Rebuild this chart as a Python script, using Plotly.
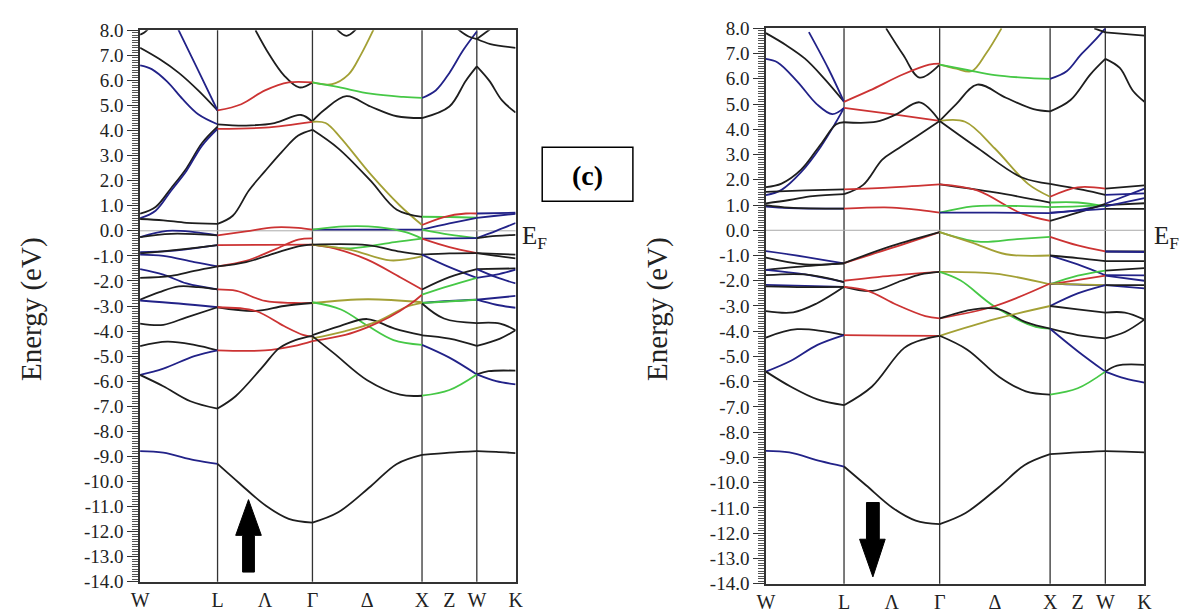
import plotly.graph_objects as go

W_FIG, H_FIG = 1181, 613

# high-symmetry path (k in units of 2pi/a)
seg_bounds = {"WL": (0.0, 0.707), "LG": (0.707, 1.573), "GX": (1.573, 2.573),
              "XW": (2.573, 3.073), "WK": (3.073, 3.427)}
sym_k = [0.0, 0.707, 1.140, 1.573, 2.073, 2.573, 2.823, 3.073, 3.427]
sym_labels = ["W", "L", "Λ", "Γ", "Δ", "X", "Z", "W", "K"]
vlines_k = [0.707, 1.573, 2.573, 3.073]
y_ticks = list(range(-14, 9))

colors = {"K": "#1e1e1e", "B": "#222288", "R": "#cc3333", "G": "#46c846", "O": "#a3a035"}

# ---------------- spin up (left) ----------------
up_WL = [
    ("K", [0, 0.05, 0.12], [7.82, 7.9, 8.1]),
    ("K", [0, 0.25, 0.5, 0.75, 1], [7.3, 6.85, 6.3, 5.6, 4.8]),
    ("B", [0.49, 0.75, 1], [8.05, 6.4, 4.8]),
    ("B", [0, 0.15, 0.35, 0.55, 0.75, 1], [6.6, 6.45, 5.95, 5.25, 4.65, 4.25]),
    ("K", [0, 0.2, 0.4, 0.6, 0.8, 1], [0.68, 0.95, 1.7, 2.5, 3.5, 4.15]),
    ("B", [0, 0.2, 0.4, 0.6, 0.8, 1], [0.5, 0.8, 1.6, 2.4, 3.4, 4.07]),
    ("K", [0, 0.3, 0.6, 1], [0.47, 0.42, 0.32, 0.28]),
    ("B", [0, 0.35, 0.7, 1], [-0.25, 0.0, -0.05, -0.18]),
    ("K", [0, 0.4, 1], [-0.25, -0.12, -0.18]),
    ("B", [0, 0.4, 1], [-0.85, -0.8, -0.57]),
    ("K", [0, 0.5, 1], [-0.9, -0.75, -0.57]),
    ("B", [0, 0.3, 0.7, 1], [-0.95, -1.0, -1.25, -1.42]),
    ("B", [0, 0.3, 0.6, 1], [-1.53, -1.75, -2.1, -2.34]),
    ("K", [0, 0.4, 0.7, 1], [-1.88, -1.8, -1.6, -1.42]),
    ("K", [0, 0.25, 0.5, 0.75, 1], [-2.75, -2.45, -2.22, -2.25, -2.34]),
    ("B", [0, 0.5, 1], [-2.78, -2.9, -3.05]),
    ("K", [0, 0.3, 0.6, 1], [-3.7, -3.75, -3.45, -3.05]),
    ("K", [0, 0.35, 0.7, 1], [-4.6, -4.42, -4.55, -4.77]),
    ("B", [0, 0.3, 0.7, 1], [-5.75, -5.5, -5.0, -4.77]),
    ("K", [0, 0.3, 0.65, 1], [-5.75, -6.2, -6.8, -7.09]),
    ("B", [0, 0.3, 0.7, 1], [-8.79, -8.85, -9.15, -9.3]),
]
up_LG = [
    ("K", [0.4, 0.55, 0.7, 0.86, 1], [8.0, 7.0, 6.2, 5.72, 5.92]),
    ("R", [0, 0.25, 0.5, 0.75, 1], [4.8, 5.05, 5.6, 5.92, 5.92]),
    ("K", [0, 0.3, 0.6, 0.88, 1], [4.25, 4.2, 4.3, 4.62, 4.35]),
    ("R", [0, 0.5, 1], [4.07, 4.12, 4.35]),
    ("K", [0, 0.16, 0.33, 0.5, 0.68, 0.85, 1], [0.28, 0.6, 1.61, 2.38, 3.16, 3.8, 4.03]),
    ("R", [0, 0.3, 0.6, 0.85, 1], [-0.18, -0.02, 0.14, 0.12, 0.05]),
    ("R", [0, 0.5, 1], [-0.57, -0.56, -0.55]),
    ("R", [0, 0.3, 0.6, 0.85, 1], [-1.42, -1.2, -0.75, -0.35, -0.3]),
    ("K", [0, 0.3, 0.6, 0.85, 1], [-1.42, -1.25, -0.9, -0.62, -0.55]),
    ("R", [0, 0.2, 0.5, 0.8, 1], [-2.34, -2.4, -2.8, -2.88, -2.88]),
    ("K", [0, 0.4, 0.7, 1], [-3.05, -3.2, -3.0, -2.88]),
    ("R", [0, 0.4, 0.7, 0.9, 1], [-3.05, -3.2, -3.8, -4.15, -4.22]),
    ("R", [0, 0.5, 0.8, 1], [-4.77, -4.77, -4.6, -4.4]),
    ("K", [0, 0.19, 0.47, 0.65, 0.82, 1], [-7.09, -6.6, -5.45, -4.68, -4.36, -4.19]),
    ("K", [0, 0.23, 0.51, 0.75, 1], [-9.3, -10.07, -10.97, -11.49, -11.64]),
]
up_GX = [
    ("O", [0, 0.18, 0.33, 0.44, 0.56], [5.92, 5.85, 6.24, 7.01, 8.05]),
    ("G", [0, 0.24, 0.53, 0.83, 1], [5.92, 5.73, 5.47, 5.34, 5.3]),
    ("K", [0.22, 0.31, 0.4], [8.05, 7.78, 8.05]),
    ("K", [0, 0.11, 0.31, 0.53, 0.77, 1], [4.38, 4.83, 5.37, 4.96, 4.57, 4.5]),
    ("O", [0, 0.12, 0.25, 0.53, 0.8, 1], [4.35, 4.3, 3.75, 2.26, 1.0, 0.23]),
    ("K", [0, 0.235, 0.53, 0.77, 1], [4.03, 3.29, 2.0, 0.84, 0.56]),
    ("B", [0, 0.5, 1], [0.05, 0.05, 0.05]),
    ("G", [0, 0.3, 0.6, 0.85, 1], [0.05, 0.18, 0.15, -0.05, -0.31]),
    ("G", [0, 0.35, 0.75, 1], [-0.55, -0.7, -0.45, -0.31]),
    ("R", [0, 0.2, 0.5, 0.8, 1], [-0.55, -0.7, -1.15, -1.85, -2.34]),
    ("O", [0, 0.35, 0.71, 1], [-0.55, -0.76, -1.18, -1.02]),
    ("K", [0, 0.5, 0.8, 1], [-0.55, -0.57, -0.83, -0.95]),
    ("O", [0, 0.5, 1], [-2.88, -2.73, -2.85]),
    ("G", [0, 0.26, 0.5, 0.74, 1], [-2.85, -3.14, -3.78, -4.36, -4.55]),
    ("K", [0, 0.25, 0.5, 0.75, 1], [-4.16, -3.8, -3.52, -3.9, -4.16]),
    ("O", [0, 0.3, 0.6, 0.85, 1], [-4.29, -4.0, -3.6, -3.05, -2.88]),
    ("R", [0, 0.3, 0.5, 0.7, 0.9, 1], [-4.4, -4.15, -3.85, -3.45, -2.9, -2.55]),
    ("K", [0, 0.2, 0.5, 0.8, 1], [-4.2, -4.9, -5.96, -6.54, -6.58]),
    ("K", [0, 0.235, 0.53, 0.77, 1], [-11.64, -11.23, -10.2, -9.3, -8.94]),
]
up_XW = [
    ("B", [0, 0.25, 0.5, 0.75, 1], [5.3, 5.6, 6.3, 7.2, 7.95]),
    ("K", [0.65, 0.85, 1], [8.05, 7.75, 7.65]),
    ("K", [0, 0.5, 0.8, 1], [4.5, 4.96, 5.99, 6.56]),
    ("G", [0, 0.5, 1], [0.56, 0.55, 0.52]),
    ("R", [0, 0.4, 0.8, 1], [0.23, 0.55, 0.69, 0.69]),
    ("B", [0, 0.5, 1], [0.05, 0.3, 0.52]),
    ("G", [0, 0.5, 1], [0.05, -0.15, -0.29]),
    ("B", [0, 0.5, 1], [-0.31, -0.3, -0.29]),
    ("R", [0, 0.5, 1], [-0.31, -0.65, -0.89]),
    ("K", [0, 0.5, 1], [-0.95, -0.9, -0.89]),
    ("B", [0, 0.5, 1], [-0.95, -1.45, -1.88]),
    ("K", [0, 0.5, 1], [-2.34, -1.85, -1.53]),
    ("G", [0, 0.5, 1], [-2.55, -2.2, -1.88]),
    ("B", [0, 0.5, 1], [-2.88, -2.8, -2.75]),
    ("G", [0, 1], [-2.88, -2.75]),
    ("K", [0, 0.4, 1], [-2.9, -3.5, -3.68]),
    ("K", [0, 0.5, 1], [-4.17, -4.3, -4.59]),
    ("B", [0, 0.5, 1], [-4.55, -5.06, -5.73]),
    ("G", [0, 0.5, 1], [-6.58, -6.35, -5.73]),
    ("K", [0, 0.5, 1], [-8.94, -8.85, -8.79]),
]
up_WK = [
    ("K", [0, 0.35], [7.65, 8.05]),
    ("K", [0, 0.35, 1], [7.65, 7.45, 7.3]),
    ("K", [0, 0.32, 0.65, 1], [6.56, 5.99, 5.2, 4.72]),
    ("B", [0, 1], [0.69, 0.72]),
    ("B", [0, 0.5, 1], [0.52, 0.6, 0.68]),
    ("B", [0, 0.5, 1], [-0.29, 0.0, 0.31]),
    ("K", [0, 0.5, 1], [-0.29, -0.2, -0.16]),
    ("K", [0, 1], [-0.89, -0.95]),
    ("K", [0, 0.5, 1], [-0.89, -1.0, -1.1]),
    ("K", [0, 1], [-1.53, -1.5]),
    ("B", [0, 0.5, 1], [-1.53, -1.85, -2.1]),
    ("B", [0, 0.5, 1], [-1.88, -1.75, -1.55]),
    ("B", [0, 1], [-2.75, -2.6]),
    ("B", [0, 0.5, 1], [-2.75, -2.95, -3.07]),
    ("K", [0, 0.6, 1], [-3.68, -3.7, -3.97]),
    ("K", [0, 0.6, 1], [-4.59, -4.3, -3.97]),
    ("K", [0, 0.3, 1], [-5.73, -5.6, -5.58]),
    ("B", [0, 0.5, 1], [-5.73, -6.0, -6.13]),
    ("K", [0, 0.5, 1], [-8.79, -8.82, -8.87]),
]

# ---------------- spin down (right) ----------------
dn_WL = [
    ("K", [0, 0.25, 0.5, 0.75, 1], [7.81, 7.35, 6.8, 6.0, 5.09]),
    ("B", [0.55, 0.8, 1], [7.85, 6.4, 5.09]),
    ("B", [0, 0.15, 0.4, 0.65, 0.85, 1], [6.79, 6.65, 5.9, 5.0, 4.6, 4.85]),
    ("B", [0, 0.2, 0.45, 0.7, 0.9, 1], [1.39, 1.6, 2.3, 3.3, 4.3, 4.85]),
    ("K", [0, 0.2, 0.45, 0.7, 0.9, 1], [1.71, 1.85, 2.4, 3.4, 4.2, 4.28]),
    ("K", [0, 0.5, 1], [1.52, 1.58, 1.62]),
    ("K", [0, 0.3, 0.6, 1], [1.07, 1.2, 1.35, 1.43]),
    ("B", [0, 0.3, 1], [0.94, 0.88, 0.86]),
    ("K", [0, 0.3, 1], [1.0, 0.9, 0.86]),
    ("B", [0, 0.5, 1], [-0.83, -1.05, -1.31]),
    ("K", [0, 0.5, 1], [-1.08, -1.35, -1.31]),
    ("K", [0, 0.4, 1], [-1.57, -1.45, -1.31]),
    ("B", [0, 0.5, 1], [-1.57, -1.75, -2.05]),
    ("K", [0, 0.5, 1], [-1.78, -1.75, -2.05]),
    ("B", [0, 0.5, 1], [-2.16, -2.2, -2.24]),
    ("K", [0, 0.5, 1], [-2.22, -2.25, -2.24]),
    ("K", [0, 0.35, 0.65, 1], [-3.2, -3.25, -2.9, -2.24]),
    ("K", [0, 0.4, 1], [-4.25, -3.92, -4.15]),
    ("B", [0, 0.32, 0.66, 1], [-5.6, -5.17, -4.54, -4.15]),
    ("K", [0, 0.32, 0.66, 1], [-5.6, -6.2, -6.7, -6.93]),
    ("B", [0, 0.3, 0.7, 1], [-8.74, -8.8, -9.15, -9.36]),
]
dn_LG = [
    ("K", [0.44, 0.62, 0.79, 1], [8.0, 6.94, 6.05, 6.56]),
    ("R", [0, 0.27, 0.62, 0.89, 1], [5.09, 5.54, 6.18, 6.56, 6.6]),
    ("R", [0, 0.5, 1], [4.85, 4.6, 4.33]),
    ("K", [0, 0.34, 0.55, 0.79, 1], [4.28, 4.3, 4.6, 5.07, 4.33]),
    ("K", [0, 0.2, 0.4, 0.55, 0.75, 1], [1.43, 1.8, 2.8, 3.2, 3.7, 4.33]),
    ("R", [0, 0.5, 1], [1.62, 1.7, 1.82]),
    ("R", [0, 0.5, 0.8, 1], [0.86, 0.9, 0.8, 0.7]),
    ("R", [0, 0.5, 1], [-1.3, -0.7, -0.07]),
    ("K", [0, 0.5, 1], [-1.3, -0.62, -0.07]),
    ("R", [0, 0.5, 1], [-2.0, -1.8, -1.65]),
    ("K", [0, 0.3, 0.6, 0.8, 1], [-2.24, -2.4, -2.0, -1.75, -1.65]),
    ("R", [0, 0.25, 0.55, 0.85, 1], [-2.24, -2.4, -2.95, -3.4, -3.49]),
    ("R", [0, 0.5, 1], [-4.15, -4.17, -4.18]),
    ("K", [0, 0.29, 0.63, 0.85, 1], [-6.93, -6.2, -4.66, -4.3, -4.18]),
    ("K", [0, 0.23, 0.51, 0.75, 1], [-9.36, -10.1, -11.0, -11.5, -11.64]),
]
dn_GX = [
    ("O", [0, 0.15, 0.29, 0.42, 0.56], [6.56, 6.4, 6.3, 7.0, 8.0]),
    ("G", [0, 0.25, 0.5, 0.75, 1], [6.56, 6.35, 6.15, 6.05, 6.0]),
    ("K", [0, 0.15, 0.34, 0.6, 0.85, 1], [4.33, 5.0, 5.77, 5.25, 4.8, 4.71]),
    ("O", [0, 0.23, 0.5, 0.8, 1], [4.33, 4.3, 3.24, 1.84, 1.33]),
    ("K", [0, 0.35, 0.74, 1], [4.33, 3.24, 2.1, 1.84]),
    ("K", [0, 0.5, 1], [1.82, 1.5, 1.1]),
    ("R", [0, 0.34, 0.73, 1], [1.82, 1.58, 0.69, 0.37]),
    ("G", [0, 0.3, 0.6, 1], [0.7, 0.95, 0.97, 0.92]),
    ("B", [0, 0.5, 1], [0.7, 0.7, 0.68]),
    ("G", [0, 0.35, 0.7, 1], [-0.07, -0.45, -0.35, -0.26]),
    ("O", [0, 0.3, 0.6, 1], [-0.07, -0.5, -0.95, -1.0]),
    ("O", [0, 0.5, 1], [-1.65, -1.72, -2.14]),
    ("G", [0, 0.19, 0.49, 0.87, 1], [-1.65, -1.99, -3.0, -3.83, -3.9]),
    ("R", [0, 0.5, 1], [-3.49, -3.0, -2.11]),
    ("K", [0, 0.31, 0.54, 0.78, 1], [-3.49, -3.13, -3.13, -3.64, -3.9]),
    ("O", [0, 0.5, 1], [-4.18, -3.52, -3.0]),
    ("K", [0, 0.25, 0.54, 0.78, 1], [-4.18, -4.73, -5.81, -6.38, -6.51]),
    ("K", [0, 0.235, 0.53, 0.77, 1], [-11.64, -11.2, -10.2, -9.3, -8.87]),
]
dn_XW = [
    ("B", [0, 0.3, 0.55, 0.8, 1], [6.0, 6.3, 6.94, 7.5, 8.0]),
    ("K", [0.8, 1], [8.0, 7.84]),
    ("K", [0, 0.37, 0.73, 1], [4.71, 5.16, 6.18, 6.79]),
    ("K", [0, 0.6, 1], [1.84, 1.6, 1.4]),
    ("R", [0, 0.5, 1], [1.33, 1.7, 1.65]),
    ("G", [0, 0.5, 1], [1.1, 1.1, 0.95]),
    ("G", [0, 0.5, 1], [0.92, 0.95, 1.0]),
    ("B", [0, 0.5, 1], [0.68, 0.8, 1.0]),
    ("K", [0, 0.5, 1], [0.37, 0.7, 1.05]),
    ("B", [0, 1], [0.7, 0.85]),
    ("R", [0, 0.5, 1], [-0.26, -0.6, -0.84]),
    ("B", [0, 0.5, 1], [-1.0, -1.35, -1.78]),
    ("K", [0, 0.5, 1], [-1.0, -1.1, -1.22]),
    ("G", [0, 0.5, 1], [-2.14, -1.8, -1.6]),
    ("R", [0, 1], [-2.14, -1.8]),
    ("B", [0, 0.5, 1], [-2.11, -2.15, -2.17]),
    ("O", [0, 1], [-2.11, -2.17]),
    ("B", [0, 0.5, 1], [-3.0, -2.5, -2.17]),
    ("K", [0, 0.5, 1], [-3.0, -3.13, -3.26]),
    ("K", [0, 0.5, 1], [-3.9, -4.15, -4.28]),
    ("B", [0, 0.5, 1], [-3.9, -4.79, -5.6]),
    ("G", [0, 0.5, 1], [-6.51, -6.26, -5.6]),
    ("K", [0, 0.5, 1], [-8.87, -8.8, -8.75]),
]
dn_WK = [
    ("K", [0, 1], [7.84, 7.71]),
    ("K", [0, 0.37, 0.7, 1], [6.79, 6.43, 5.54, 5.09]),
    ("K", [0, 1], [1.65, 1.78]),
    ("B", [0, 1], [1.4, 1.46]),
    ("B", [0, 1], [1.05, 1.65]),
    ("K", [0, 1], [1.0, 1.07]),
    ("B", [0, 1], [0.95, 1.27]),
    ("K", [0, 1], [0.85, 0.85]),
    ("K", [0, 1], [-0.84, -0.84]),
    ("B", [0, 1], [-0.84, -0.86]),
    ("K", [0, 1], [-1.22, -1.22]),
    ("B", [0, 1], [-1.78, -1.79]),
    ("K", [0, 1], [-1.6, -1.5]),
    ("B", [0, 1], [-1.8, -2.0]),
    ("B", [0, 1], [-2.17, -2.3]),
    ("K", [0, 1], [-2.17, -2.17]),
    ("K", [0, 0.5, 1], [-3.26, -3.26, -3.54]),
    ("K", [0, 0.5, 1], [-4.28, -4.03, -3.54]),
    ("K", [0, 0.3, 1], [-5.6, -5.36, -5.33]),
    ("B", [0, 0.5, 1], [-5.6, -5.87, -6.04]),
    ("K", [0, 0.5, 1], [-8.75, -8.77, -8.8]),
]

panels = [
    ("x", "y", {"WL": up_WL, "LG": up_LG, "GX": up_GX, "XW": up_XW, "WK": up_WK}),
    ("x2", "y2", {"WL": dn_WL, "LG": dn_LG, "GX": dn_GX, "XW": dn_XW, "WK": dn_WK}),
]

fig = go.Figure()
for xa, ya, segs in panels:
    for seg, pieces in segs.items():
        k0, k1 = seg_bounds[seg]
        for col, fr, en in pieces:
            fig.add_trace(go.Scatter(
                x=[k0 + f * (k1 - k0) for f in fr], y=en, mode="lines",
                line=dict(color=colors[col], width=1.8, shape="spline", smoothing=1.0),
                xaxis=xa, yaxis=ya, showlegend=False, hoverinfo="skip", cliponaxis=True))

def px(x):
    return x / W_FIG

def py(y):
    return 1 - y / H_FIG

serif = "Times New Roman, Liberation Serif, Tinos, Times, serif"
tickfont = dict(family=serif, size=19, color="#222")

def xaxis_cfg(x0, x1, anchor):
    return dict(domain=[px(x0), px(x1)], range=[0, 3.427], tickvals=sym_k, ticktext=sym_labels,
                ticks="", showgrid=False, zeroline=False, showline=True, mirror=True,
                linecolor="#333", linewidth=1.5, tickfont=dict(family=serif, size=20, color="#222"),
                anchor=anchor, fixedrange=True)

def yaxis_cfg(y0, y1, anchor):
    return dict(domain=[py(y1), py(y0)], range=[-14, 8], tickvals=y_ticks,
                ticktext=["%.1f" % v for v in y_ticks], ticks="outside", ticklen=11, tickwidth=1.2,
                tickcolor="#333", showgrid=False, zeroline=False, showline=True, mirror=True,
                linecolor="#333", linewidth=1.5, tickfont=tickfont, anchor=anchor,
                minor=dict(ticks="outside", ticklen=6, tickwidth=1, tickcolor="#555", dtick=0.1,
                           tick0=0, showgrid=False),
                fixedrange=True)

fig.update_layout(
    width=W_FIG, height=H_FIG, margin=dict(l=0, r=0, t=0, b=0),
    paper_bgcolor="white", plot_bgcolor="white",
    font=dict(family=serif),
    xaxis=xaxis_cfg(133, 514, "y"), yaxis=yaxis_cfg(21, 592, "x"),
    xaxis2=xaxis_cfg(768, 1152, "y2"), yaxis2=yaxis_cfg(19, 594, "x2"),
)

shapes = []
for xr, yr in (("x", "y"), ("x2", "y2")):
    for kv in vlines_k:
        shapes.append(dict(type="line", xref=xr, yref=yr + " domain", x0=kv, x1=kv, y0=0, y1=1,
                           line=dict(color="#333", width=1.3), layer="below"))
    shapes.append(dict(type="line", xref=xr + " domain", yref=yr, x0=0, x1=1, y0=0, y1=0,
                       line=dict(color="#aaa", width=1), layer="below"))

def arrow_path(pts):
    return "M " + " L ".join("%.5f,%.5f" % (px(a), py(b)) for a, b in pts) + " Z"

up_arrow = [(237, 582), (249, 582), (249, 544), (256, 544), (243, 507), (230, 544), (237, 544)]
dn_arrow = [(870, 510), (883, 510), (883, 548), (889, 548), (876.5, 587), (863, 548), (870, 548)]
for pts in (up_arrow, dn_arrow):
    shapes.append(dict(type="path", xref="paper", yref="paper", path=arrow_path(pts),
                       fillcolor="black", line=dict(color="black", width=1)))
shapes.append(dict(type="rect", xref="paper", yref="paper", x0=px(541), x1=px(633),
                   y0=py(198), y1=py(142), line=dict(color="black", width=1.5),
                   fillcolor="rgba(0,0,0,0)"))
fig.update_layout(shapes=shapes)

annotations = [
    dict(x=px(587), y=py(171), xref="paper", yref="paper", xanchor="center", yanchor="middle",
         text="<b>(c)</b>", showarrow=False, font=dict(family=serif, size=28, color="black")),
    dict(x=px(518), y=py(236), xref="paper", yref="paper", xanchor="left", yanchor="middle",
         text="E<sub>F</sub>", showarrow=False, font=dict(family=serif, size=25, color="#222")),
    dict(x=px(1160), y=py(236), xref="paper", yref="paper", xanchor="left", yanchor="middle",
         text="E<sub>F</sub>", showarrow=False, font=dict(family=serif, size=25, color="#222")),
    dict(x=px(23), y=py(310), xref="paper", yref="paper", xanchor="center", yanchor="middle",
         text="Energy (eV)", textangle=-90,
         showarrow=False, font=dict(family=serif, size=29, color="#222")),
    dict(x=px(658), y=py(310), xref="paper", yref="paper", xanchor="center", yanchor="middle",
         text="Energy (eV)", textangle=-90,
         showarrow=False, font=dict(family=serif, size=29, color="#222")),
]
fig.update_layout(annotations=annotations)

fig.write_html("out.html")
